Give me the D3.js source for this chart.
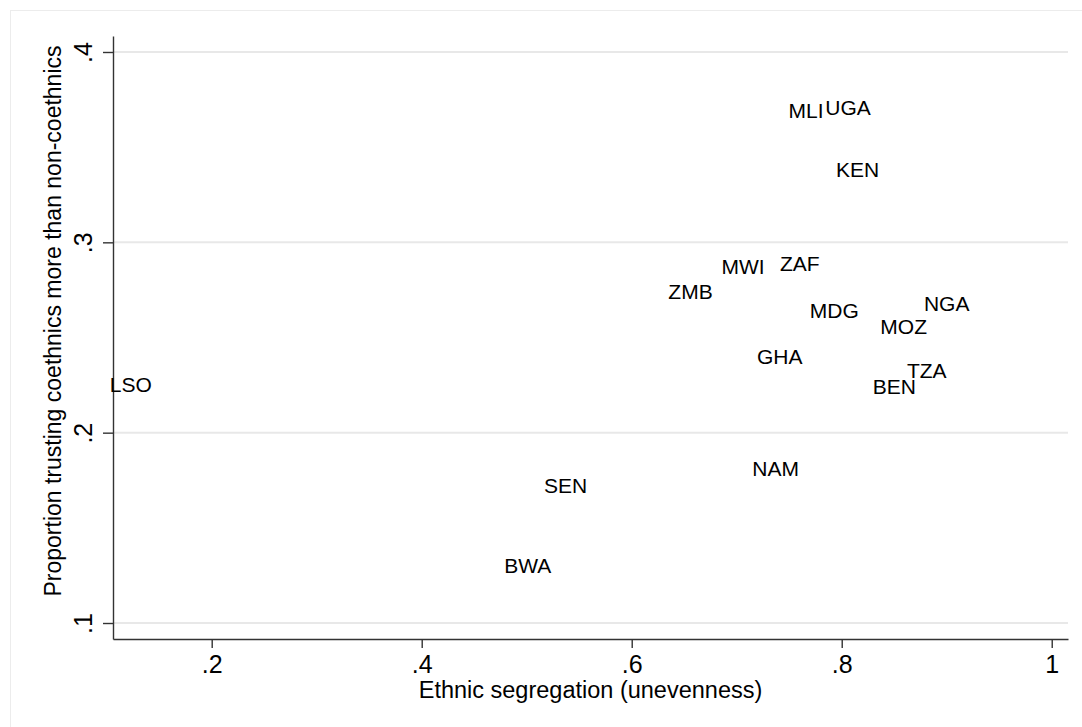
<!DOCTYPE html>
<html>
<head>
<meta charset="utf-8">
<script src="https://cdn.jsdelivr.net/npm/d3@7"></script>
<style>
  body { margin: 0; background: #fff; }
  svg text { font-family: "Liberation Sans", Arial, Helvetica, sans-serif; fill: #000; }
</style>
</head>
<body>
<div id="chart"></div>
<script>
// country codes and values
const countries = ["MLI", "UGA", "KEN", "MWI", "ZAF", "ZMB", "MDG", "NGA", "MOZ",
                   "GHA", "TZA", "BEN", "LSO", "SEN", "BWA", "NAM"];
const segregation = [0.766, 0.806, 0.815, 0.706, 0.760, 0.656, 0.793, 0.900, 0.859,
                     0.741, 0.881, 0.850, 0.123, 0.537, 0.501, 0.737];
const trustShare = [0.3695, 0.3706, 0.3382, 0.2872, 0.2888, 0.2741, 0.2644, 0.2678, 0.2559,
                    0.2402, 0.2325, 0.2241, 0.2254, 0.1721, 0.1300, 0.1810];
const xTicks = [0.2, 0.4, 0.6, 0.8, 1];
const yTicks = [0.1, 0.2, 0.3, 0.4];

const width = 1082, height = 727;
const plot = {left: 113, right: 1068, top: 36, bottom: 639};

const svg = d3.select("#chart")
    .append("svg")
    .attr("width", width)
    .attr("height", height);

// outer graph frame (runs off the picture on right and bottom)
svg.append("rect")
    .attr("x", 10.5).attr("y", 10.5)
    .attr("width", 1100).attr("height", 740)
    .attr("fill", "none")
    .attr("stroke", "#ececec")
    .attr("stroke-width", 1);

let x = d3.scaleLinear()
    .domain([0.106, 1.0155])
    .range([plot.left, plot.right]);

let y = d3.scaleLinear()
    .domain([0.0916, 0.4084])
    .range([plot.bottom, plot.top]);

// horizontal grid lines
svg.append("g")
    .selectAll("line")
    .data(yTicks)
    .enter()
    .append("line")
    .attr("x1", plot.left)
    .attr("x2", plot.right)
    .attr("y1", d => y(d))
    .attr("y2", d => y(d))
    .attr("stroke", "#e8e8e8")
    .attr("stroke-width", 2);

const fmt = d => d === 1 ? "1" : d3.format(".1f")(d).replace(/^0/, "");

// y axis
let yAxis = svg.append("g")
    .attr("transform", `translate(${plot.left}, 0)`)
    .call(d3.axisLeft(y).tickValues(yTicks).tickFormat(fmt).tickSize(10).tickSizeOuter(0));
yAxis.select(".domain").attr("stroke", "#333").attr("stroke-width", 1.4);
yAxis.selectAll(".tick line").attr("stroke", "#333").attr("stroke-width", 1.4);
yAxis.selectAll(".tick text")
    .attr("x", null).attr("dy", null)
    .attr("transform", "translate(-21, 0) rotate(-90)")
    .attr("text-anchor", "middle")
    .style("font-size", "25px");

// x axis
let xAxis = svg.append("g")
    .attr("transform", `translate(0, ${plot.bottom})`)
    .call(d3.axisBottom(x).tickValues(xTicks).tickFormat(fmt).tickSize(9).tickSizeOuter(0));
xAxis.select(".domain").attr("stroke", "#333").attr("stroke-width", 1.4);
xAxis.selectAll(".tick text")
    .attr("y", 34).attr("dy", null)
    .style("font-size", "25px");
xAxis.selectAll(".tick line").attr("stroke", "#333").attr("stroke-width", 1.4);

// the points are drawn as their country labels only
svg.append("g")
    .selectAll("text")
    .data(countries)
    .enter()
    .append("text")
    .attr("x", (d, i) => x(segregation[i]))
    .attr("y", (d, i) => y(trustShare[i]) + 7.5)
    .attr("text-anchor", "middle")
    .style("font-size", "21px")
    .text(d => d);

// axis titles
svg.append("text")
    .attr("x", (plot.left + plot.right) / 2)
    .attr("y", 698)
    .attr("text-anchor", "middle")
    .style("font-size", "23.5px")
    .text("Ethnic segregation (unevenness)");

svg.append("text")
    .attr("transform", "translate(61, 321) rotate(-90)")
    .attr("text-anchor", "middle")
    .style("font-size", "23px")
    .text("Proportion trusting coethnics more than non-coethnics");
</script>
</body>
</html>
